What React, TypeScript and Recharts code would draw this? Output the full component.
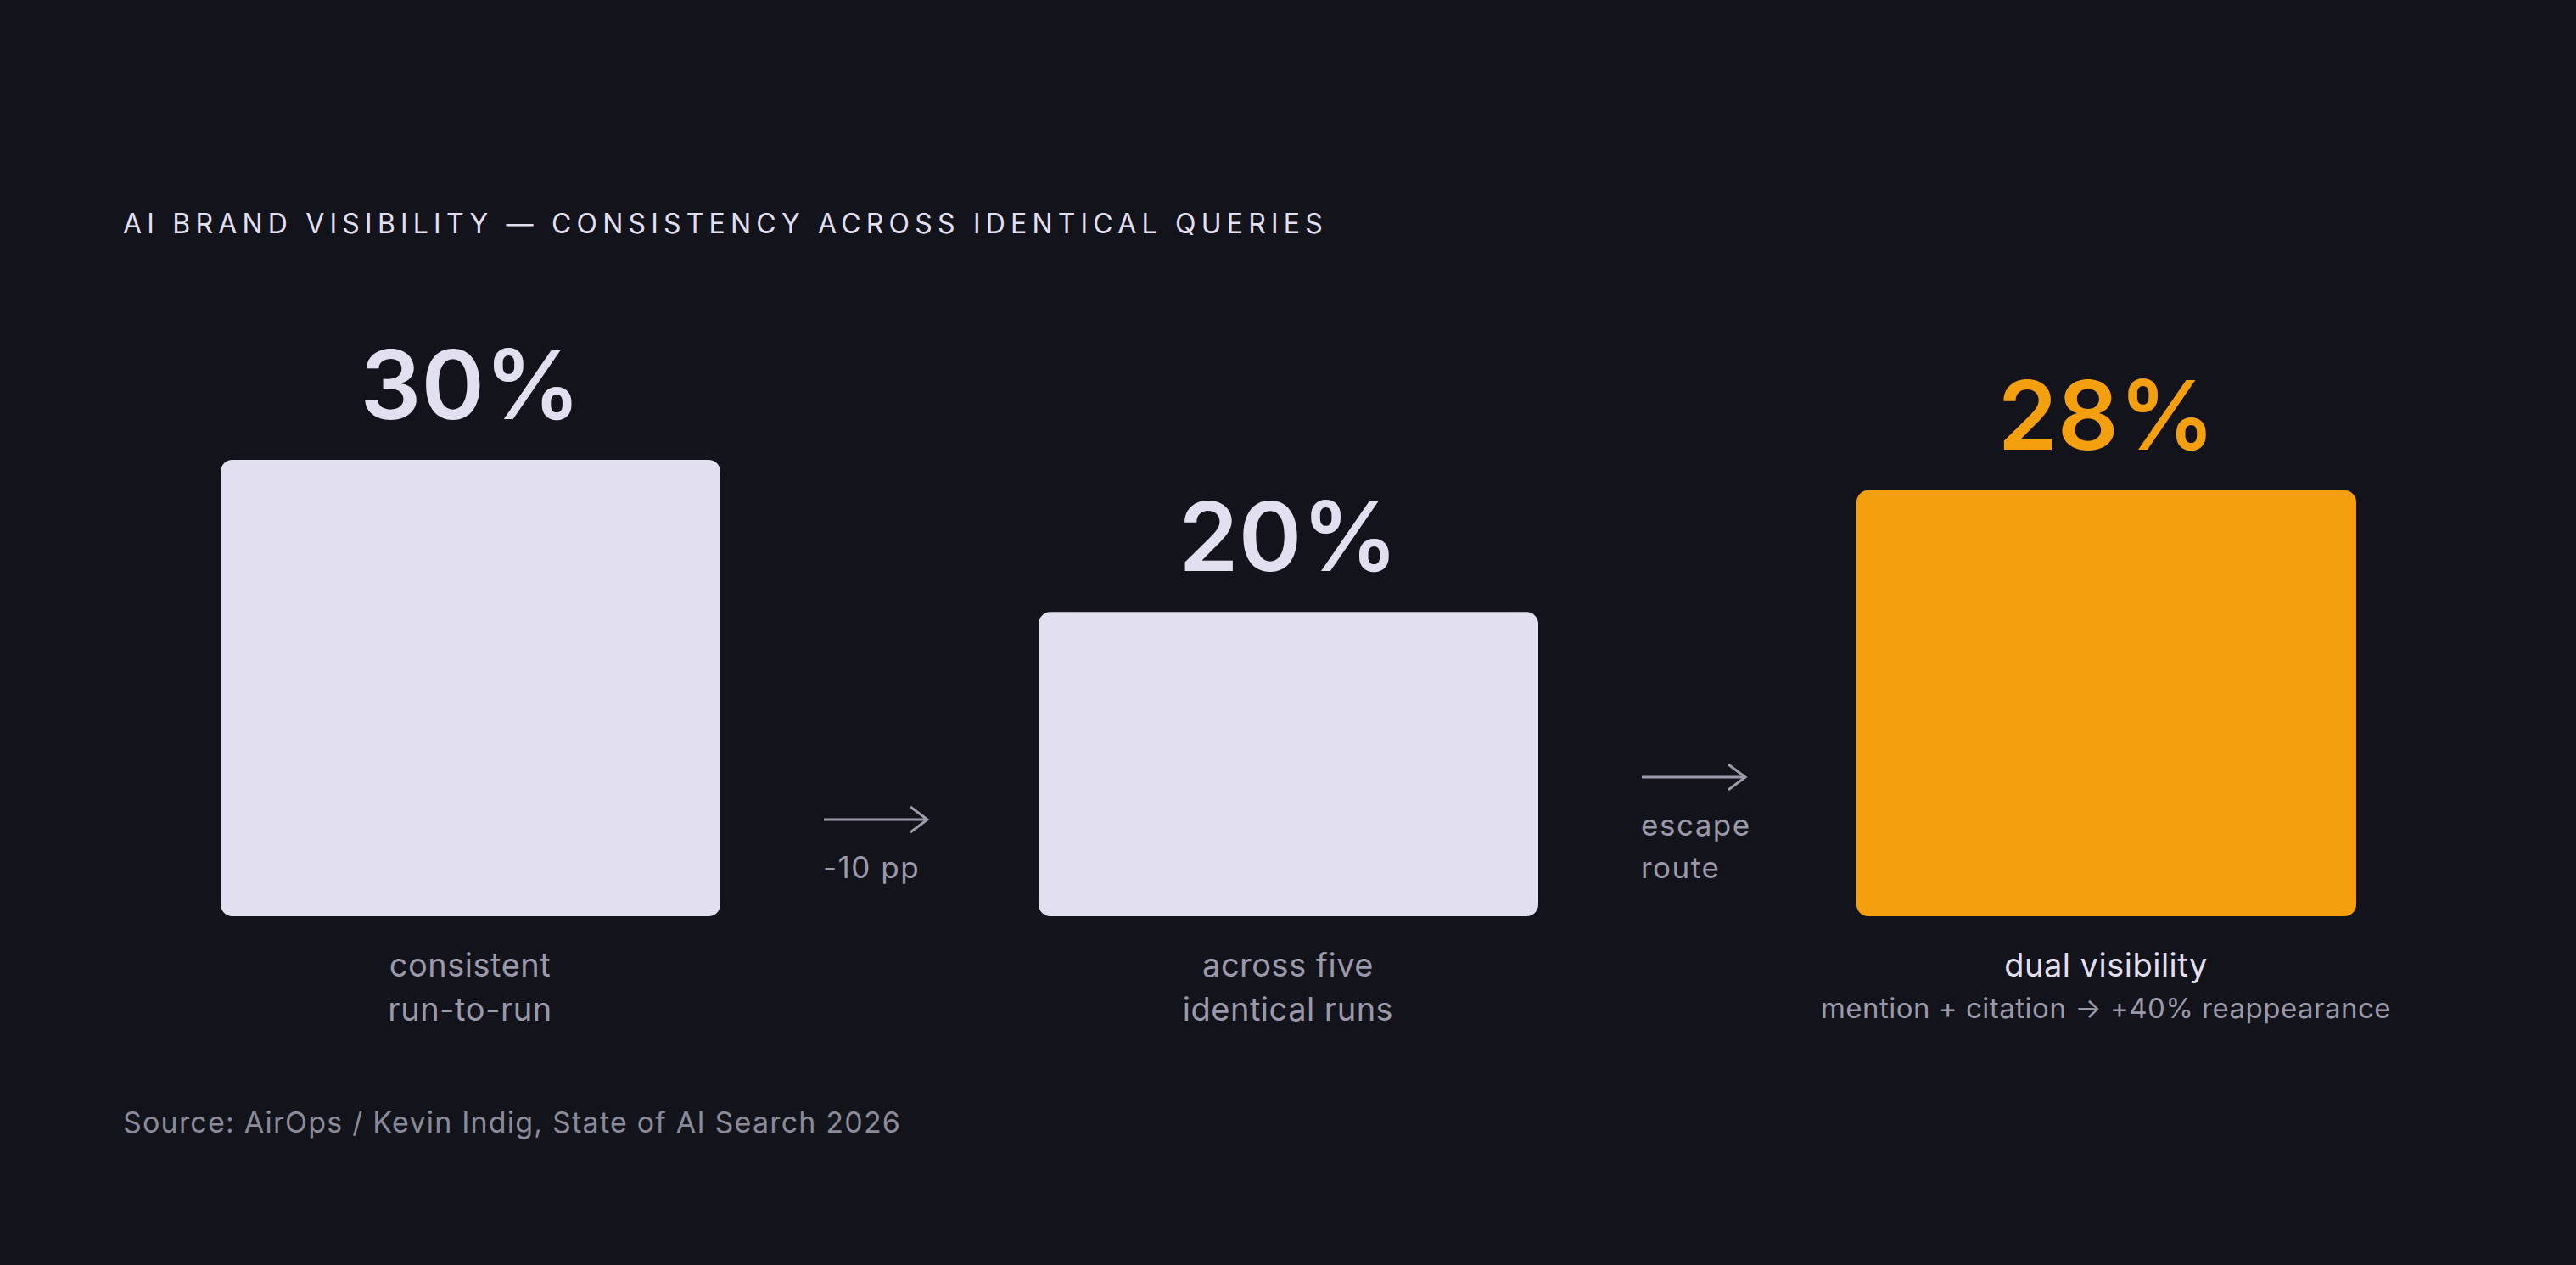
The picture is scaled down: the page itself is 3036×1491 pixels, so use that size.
import React from "react";
import { BarChart, Bar, XAxis, YAxis, Cell, LabelList } from "recharts";

const categoryLines = [["consistent", "run-to-run"], ["across five", "identical runs"], ["dual visibility"]];
const subNotes = ["", "", "mention + citation → +40% reappearance"];
const values = [30, 20, 28];
const highlighted = [false, false, true];
const stepLabels = [["-10 pp"], ["escape", "route"]];

const TITLE = "AI BRAND VISIBILITY — CONSISTENCY ACROSS IDENTICAL QUERIES";
const SOURCE = "Source: AirOps / Kevin Indig, State of AI Search 2026";

const W = 3036;
const H = 1491;
const M = { top: 542, right: 72, bottom: 211, left: 72 };
const BAND = (W - M.left - M.right) / values.length;

const BG = "#13131b";
const LAVENDER = "#e1dff0";
const ORANGE = "#f39f0e";
const GREY = "#9b99a9";
const FONT = "Inter, 'Noto Sans', sans-serif";

const data = values.map((v, i) => ({ name: categoryLines[i].join(" "), value: v, idx: i }));

function ValueLabel(props: any) {
  const { x, y, width, value, index } = props;
  return (
    <text
      x={x + width / 2}
      y={y - 48}
      textAnchor="middle"
      fontFamily={FONT}
      fontSize={113}
      fontWeight={600}
      fill={highlighted[index] ? ORANGE : LAVENDER}
    >
      {value}%
    </text>
  );
}

function CategoryTick(props: any) {
  const { x, y, index } = props;
  const lines = categoryLines[index] || [];
  const top = y; // plot bottom
  const cx = x + BAND / 2 - 4;
  const step = stepLabels[index];
  return (
    <g>
      {lines.map((l, i) => (
        <text
          key={i}
          x={x}
          y={top + 71 + i * 52}
          textAnchor="middle"
          fontFamily={FONT}
          fontSize={38}
          letterSpacing={0.5}
          fill={highlighted[index] ? LAVENDER : GREY}
        >
          {l}
        </text>
      ))}
      {subNotes[index] ? (
        <text x={x} y={top + 120} textAnchor="middle" fontFamily={FONT} fontSize={33} letterSpacing={0.5} fill={GREY}>
          {subNotes[index]}
        </text>
      ) : null}
      {step ? (
        <g>
          {(() => {
            const lastY = top - 58;
            const arrowY = lastY - (step.length - 1) * 50 - 56;
            return (
              <g>
                <path
                  d={`M ${cx - 61} ${arrowY} H ${cx + 61} M ${cx + 41} ${arrowY - 15} L ${cx + 61} ${arrowY} L ${cx + 41} ${arrowY + 15}`}
                  stroke="#9d9bab"
                  strokeWidth={3}
                  fill="none"
                />
                {step.map((s, i) => (
                  <text
                    key={i}
                    x={cx - 62}
                    y={lastY - (step.length - 1 - i) * 50 + 13}
                    fontFamily={FONT}
                    fontSize={35}
                    letterSpacing={1.5}
                    fill={GREY}
                  >
                    {s}
                  </text>
                ))}
              </g>
            );
          })()}
        </g>
      ) : null}
    </g>
  );
}

export default function App() {
  return (
    <div style={{ position: "fixed", top: 0, left: 0, width: W, height: H, background: BG }}>
      <svg width={W} height={H} style={{ position: "absolute", top: 0, left: 0 }}>
        <text x={145} y={275} fontFamily={FONT} fontSize={32} letterSpacing={6.2} fill={LAVENDER}>
          {TITLE}
        </text>
        <text x={145} y={1335} fontFamily={FONT} fontSize={34} letterSpacing={1.2} fill="#8b8a99">
          {SOURCE}
        </text>
      </svg>
      <div style={{ position: "absolute", top: 0, left: 0 }}>
        <BarChart width={W} height={H} data={data} margin={M} barCategoryGap={0}>
          <YAxis hide type="number" domain={[0, 30]} />
          <XAxis
            dataKey="name"
            height={200}
            axisLine={false}
            tickLine={false}
            tickSize={0}
            tickMargin={0}
            interval={0}
            tick={<CategoryTick />}
          />
          <Bar dataKey="value" barSize={589} radius={14} isAnimationActive={false}>
            {data.map((d) => (
              <Cell key={d.idx} fill={highlighted[d.idx] ? ORANGE : LAVENDER} />
            ))}
            <LabelList dataKey="value" content={<ValueLabel />} />
          </Bar>
        </BarChart>
      </div>
    </div>
  );
}
